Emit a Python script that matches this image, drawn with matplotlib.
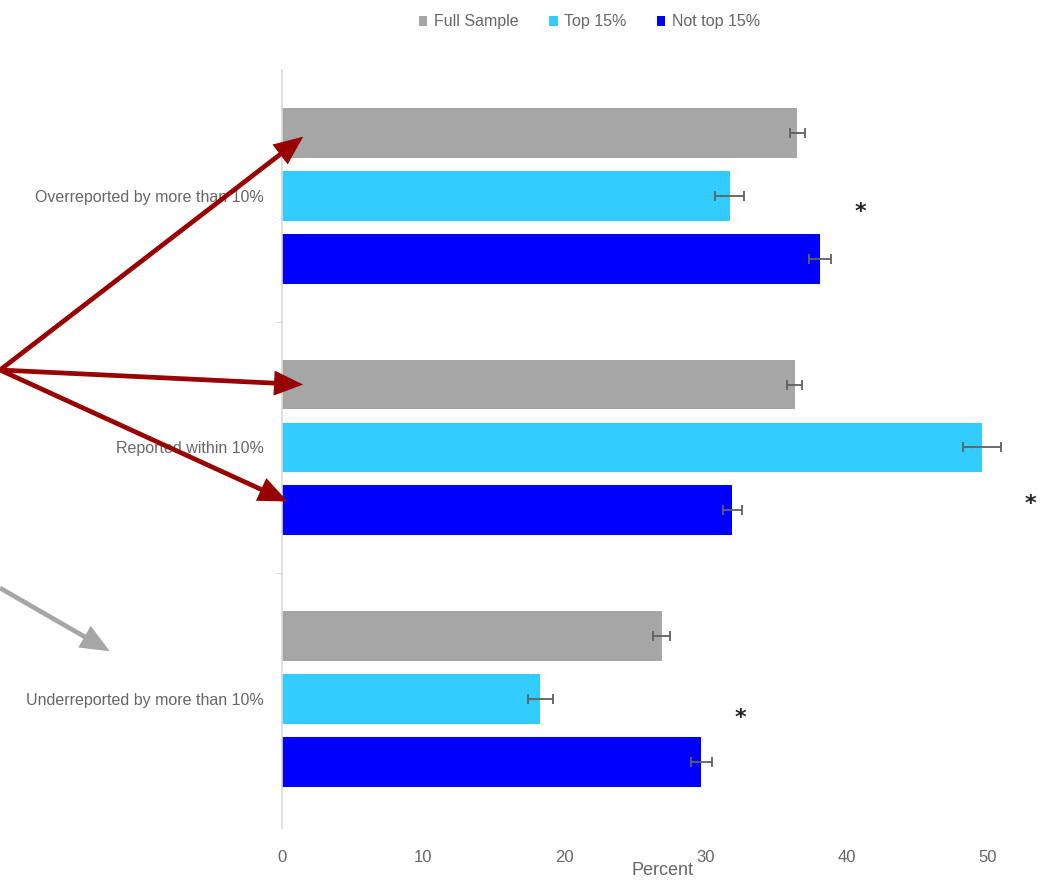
import numpy as np
import matplotlib.pyplot as plt

plt.rcParams['font.family'] = ['Liberation Sans', 'DejaVu Sans']

# Share of respondents in each reporting category, by group
categories = ['Overreported by more than 10%', 'Reported within 10%',
              'Underreported by more than 10%']
series = ['Full Sample', 'Top 15%', 'Not top 15%']
full_sample = [36.5, 36.3, 26.9]
top15 = [31.7, 49.6, 18.3]
not_top15 = [38.1, 31.9, 29.7]
full_err = [0.55, 0.55, 0.6]
top15_err = [1.05, 1.35, 0.9]
not_top15_err = [0.75, 0.7, 0.75]
colors = ['#A6A6A6', '#33CCFF', '#0000FF']
star_x = [41.0, 53.0, 32.5]   # significance markers
star_y = [1.25, 5.9, 9.3]
xticks = [0, 10, 20, 30, 40, 50]

fig = plt.figure(figsize=(10.43, 8.82), dpi=100)
ax = fig.add_axes([282 / 1043, 54 / 882, 1 - 282 / 1043, 758 / 882])

values = [full_sample, top15, not_top15]
errors = [full_err, top15_err, not_top15_err]
group_pos = np.arange(len(categories)) * 4
for i, (name, vals, errs, c) in enumerate(zip(series, values, errors, colors)):
    ax.barh(group_pos + i, vals, height=0.79, color=c, label=name,
            xerr=errs, error_kw=dict(ecolor='#606060', elinewidth=1.3,
                                     capsize=3.5, capthick=1.3))

for x, y in zip(star_x, star_y):
    ax.text(x, y, '*', fontsize=16, fontweight='bold', ha='center',
            va='center', color='#222222', family='DejaVu Sans')

ax.set_ylim(11.05, -1)
ax.set_xlim(0, 53.9)
ax.set_yticks(group_pos + 1)
ax.set_yticklabels(categories, fontsize=11.5, color='#666666')
ax.set_yticks(group_pos[:-1] + 3, minor=True)
ax.tick_params(axis='y', which='major', length=0, pad=13)
ax.tick_params(axis='y', which='minor', length=5, color='#D9D9D9')
ax.set_xticks(xticks)
ax.set_xticklabels([str(t) for t in xticks], fontsize=12, color='#666666')
ax.tick_params(axis='x', length=0, pad=16)
ax.set_xlabel('Percent', fontsize=13, color='#666666', labelpad=-2)
for side in ['top', 'right', 'bottom']:
    ax.spines[side].set_visible(False)
ax.spines['left'].set_color('#D9D9D9')
ax.spines['left'].set_linewidth(1.2)

leg = fig.legend(loc='upper center', bbox_to_anchor=(0.565, 1.0), ncol=3,
                 frameon=False, fontsize=11.5, handlelength=0.55,
                 handleheight=0.55, handletextpad=0.4, columnspacing=1.9)
for t in leg.get_texts():
    t.set_color('#666666')

# Callout arrows (filled heads, no outline)
head = 'simple,head_length=1.05,head_width=0.9,tail_width=0.17'
red_tail = (0, 1 - 370 / 882)
for tip in [(1.5, 0.06), (1.5, 4.0), (0.4, 5.86)]:
    ax.annotate('', xy=tip, xytext=red_tail, textcoords='figure fraction',
                annotation_clip=False,
                arrowprops=dict(arrowstyle=head, fc='#990000', ec='none',
                                mutation_scale=20, shrinkA=0, shrinkB=0))
ax.annotate('', xy=(-12.2, 8.24), xytext=(0, 1 - 588 / 882),
            textcoords='figure fraction', annotation_clip=False,
            arrowprops=dict(arrowstyle=head, fc='#A6A6A6', ec='none',
                            mutation_scale=20, shrinkA=0, shrinkB=0))

fig.savefig('out.png', dpi=100)
